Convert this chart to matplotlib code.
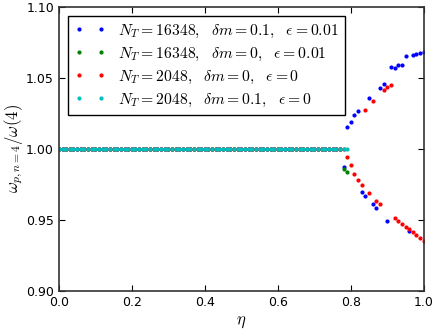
import numpy as np
import matplotlib
matplotlib.use("Agg")
import matplotlib.pyplot as plt

plt.rcParams['mathtext.fontset'] = 'cm'

# plateau region: eta = 0.00 ... 0.79 in steps of 0.01
eta_flat = np.round(np.arange(0, 80) / 100.0, 2)

# N_T=16348, dm=0.1, eps=0.01 (blue)
eta_b = [0.78, 0.79, 0.80, 0.81, 0.82, 0.83, 0.84, 0.85, 0.86, 0.87, 0.88, 0.89,
         0.90, 0.91, 0.92, 0.93, 0.94, 0.95, 0.96, 0.97, 0.98, 0.99, 1.00]
w_b = [0.9873, 1.0155, 1.0192, 1.0237, 1.0268, 0.9697, 0.9667, 1.0357, 0.9611,
       0.9587, 1.0432, 1.0460, 0.9495, 1.0580, 1.0568, 1.0594, 1.0594, 1.0653,
       0.9423, 1.0662, 1.0669, 1.0676, 1.0685]

# N_T=16348, dm=0, eps=0.01 (green)
eta_g = [0.78, 0.79]
w_g = [0.9860, 0.9840]

# N_T=2048, dm=0, eps=0 (red)
eta_r = [0.79, 0.80, 0.81, 0.82, 0.83, 0.84, 0.85, 0.86, 0.87, 0.88, 0.89, 0.90,
         0.91, 0.92, 0.93, 0.94, 0.95, 0.96, 0.97, 0.98, 0.99, 1.00]
w_r = [0.9944, 0.9885, 0.9826, 0.9784, 0.9746, 1.0275, 0.9688, 1.0336, 0.9632,
       0.9611, 1.0413, 1.0434, 1.0453, 0.9512, 0.9493, 0.9472, 0.9453, 0.9434,
       0.9413, 0.9392, 0.9373, 0.9354]

labels = [r'$N_T=16348,\ \ \delta m=0.1,\ \ \epsilon=0.01$',
          r'$N_T=16348,\ \ \delta m=0,\ \ \epsilon=0.01$',
          r'$N_T=2048,\ \ \delta m=0,\ \ \epsilon=0$',
          r'$N_T=2048,\ \ \delta m=0.1,\ \ \epsilon=0$']

fig = plt.figure(figsize=(4.36, 3.31), dpi=100)
ax = fig.add_axes([0.135, 0.121, 0.837, 0.858])

ms = 4
ax.plot(np.concatenate([eta_flat[eta_flat < 0.78], eta_b]),
        np.concatenate([np.ones(78), w_b]), 'b.', ms=ms, label=labels[0])
ax.plot(np.concatenate([eta_flat[eta_flat < 0.78], eta_g]),
        np.concatenate([np.ones(78), w_g]), 'g.', ms=ms, label=labels[1])
ax.plot(np.concatenate([eta_flat[eta_flat < 0.79], eta_r]),
        np.concatenate([np.ones(79), w_r]), 'r.', ms=ms, label=labels[2])
ax.plot(eta_flat, np.ones(len(eta_flat)), 'c.', ms=ms, label=labels[3])

ax.set_xlim(0, 1)
ax.set_ylim(0.9, 1.1)
ax.set_xticks([0.0, 0.2, 0.4, 0.6, 0.8, 1.0])
ax.set_yticks([0.90, 0.95, 1.00, 1.05, 1.10])
ax.tick_params(direction='in', labelsize=9, top=True, right=True, length=4)
for sp in ax.spines.values():
    sp.set_linewidth(1.2)
    sp.set_color('#333333')
ax.set_xlabel(r'$\eta$', fontsize=12, labelpad=2)
ax.set_ylabel(r'$\omega_{p,n=4}/\omega(4)$', fontsize=12, labelpad=1)

leg = ax.legend(loc='upper left', numpoints=2, fontsize=11.3, fancybox=False,
                framealpha=1, edgecolor='black', handlelength=2,
                labelspacing=0.38, borderaxespad=0.6)
leg.get_frame().set_linewidth(1.0)

fig.savefig('out.png', dpi=100)
